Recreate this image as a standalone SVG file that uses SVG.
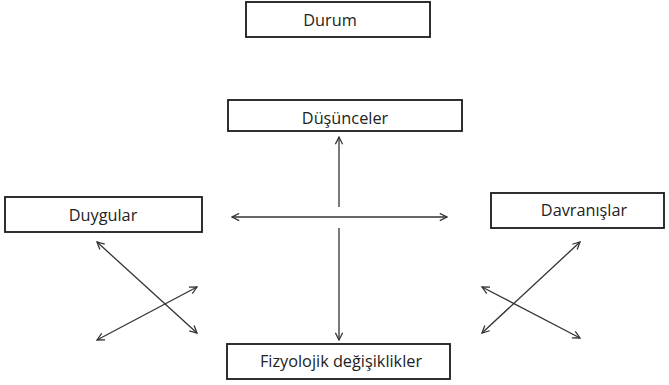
<svg xmlns="http://www.w3.org/2000/svg" width="669" height="385" viewBox="0 0 669 385">
<style>
.box{fill:#fff;stroke:#1a1a1a;stroke-width:1.8}
.lbl{font-family:"Open Sans","Noto Sans",sans-serif;font-size:16.3px;fill:#222;text-anchor:middle}
.con{stroke:#333;stroke-width:1.3;fill:none;marker-start:url(#ah);marker-end:url(#ah)}
</style>
<defs>
<marker id="ah" viewBox="0 0 10 10" refX="9" refY="5" markerWidth="9" markerHeight="9" markerUnits="userSpaceOnUse" orient="auto-start-reverse">
<path d="M1,1 L9,5 L1,9" fill="none" stroke="#333" stroke-width="1.4"/>
</marker>
</defs>
<rect width="669" height="385" fill="#fff"/>
<g id="durum"><rect class="box" x="246" y="2" width="184" height="35"/><text class="lbl" x="330" y="26">Durum</text></g>
<g id="dusunceler"><rect class="box" x="228" y="100" width="234" height="31"/><text class="lbl" x="345" y="124">Düşünceler</text></g>
<g id="duygular"><rect class="box" x="5" y="197" width="197" height="35"/><text class="lbl" x="103" y="221">Duygular</text></g>
<g id="davranislar"><rect class="box" x="491" y="193" width="173" height="35"/><text class="lbl" x="584" y="216">Davranışlar</text></g>
<g id="fizyolojik"><rect class="box" x="227" y="344" width="223" height="35"/><text class="lbl" x="341" y="367">Fizyolojik değişiklikler</text></g>
<g id="connectors">
<path class="con" style="marker-end:none" d="M339,137 L339,207"/>
<path class="con" style="marker-start:none" d="M339,228 L339,340"/>
<path class="con" d="M232,217 L447,217"/>
<path class="con" d="M97,242 L197,333"/>
<path class="con" d="M97,340 L197,287"/>
<path class="con" d="M580,242 L482,333"/>
<path class="con" d="M482,287 L580,338"/>
</g>
</svg>
